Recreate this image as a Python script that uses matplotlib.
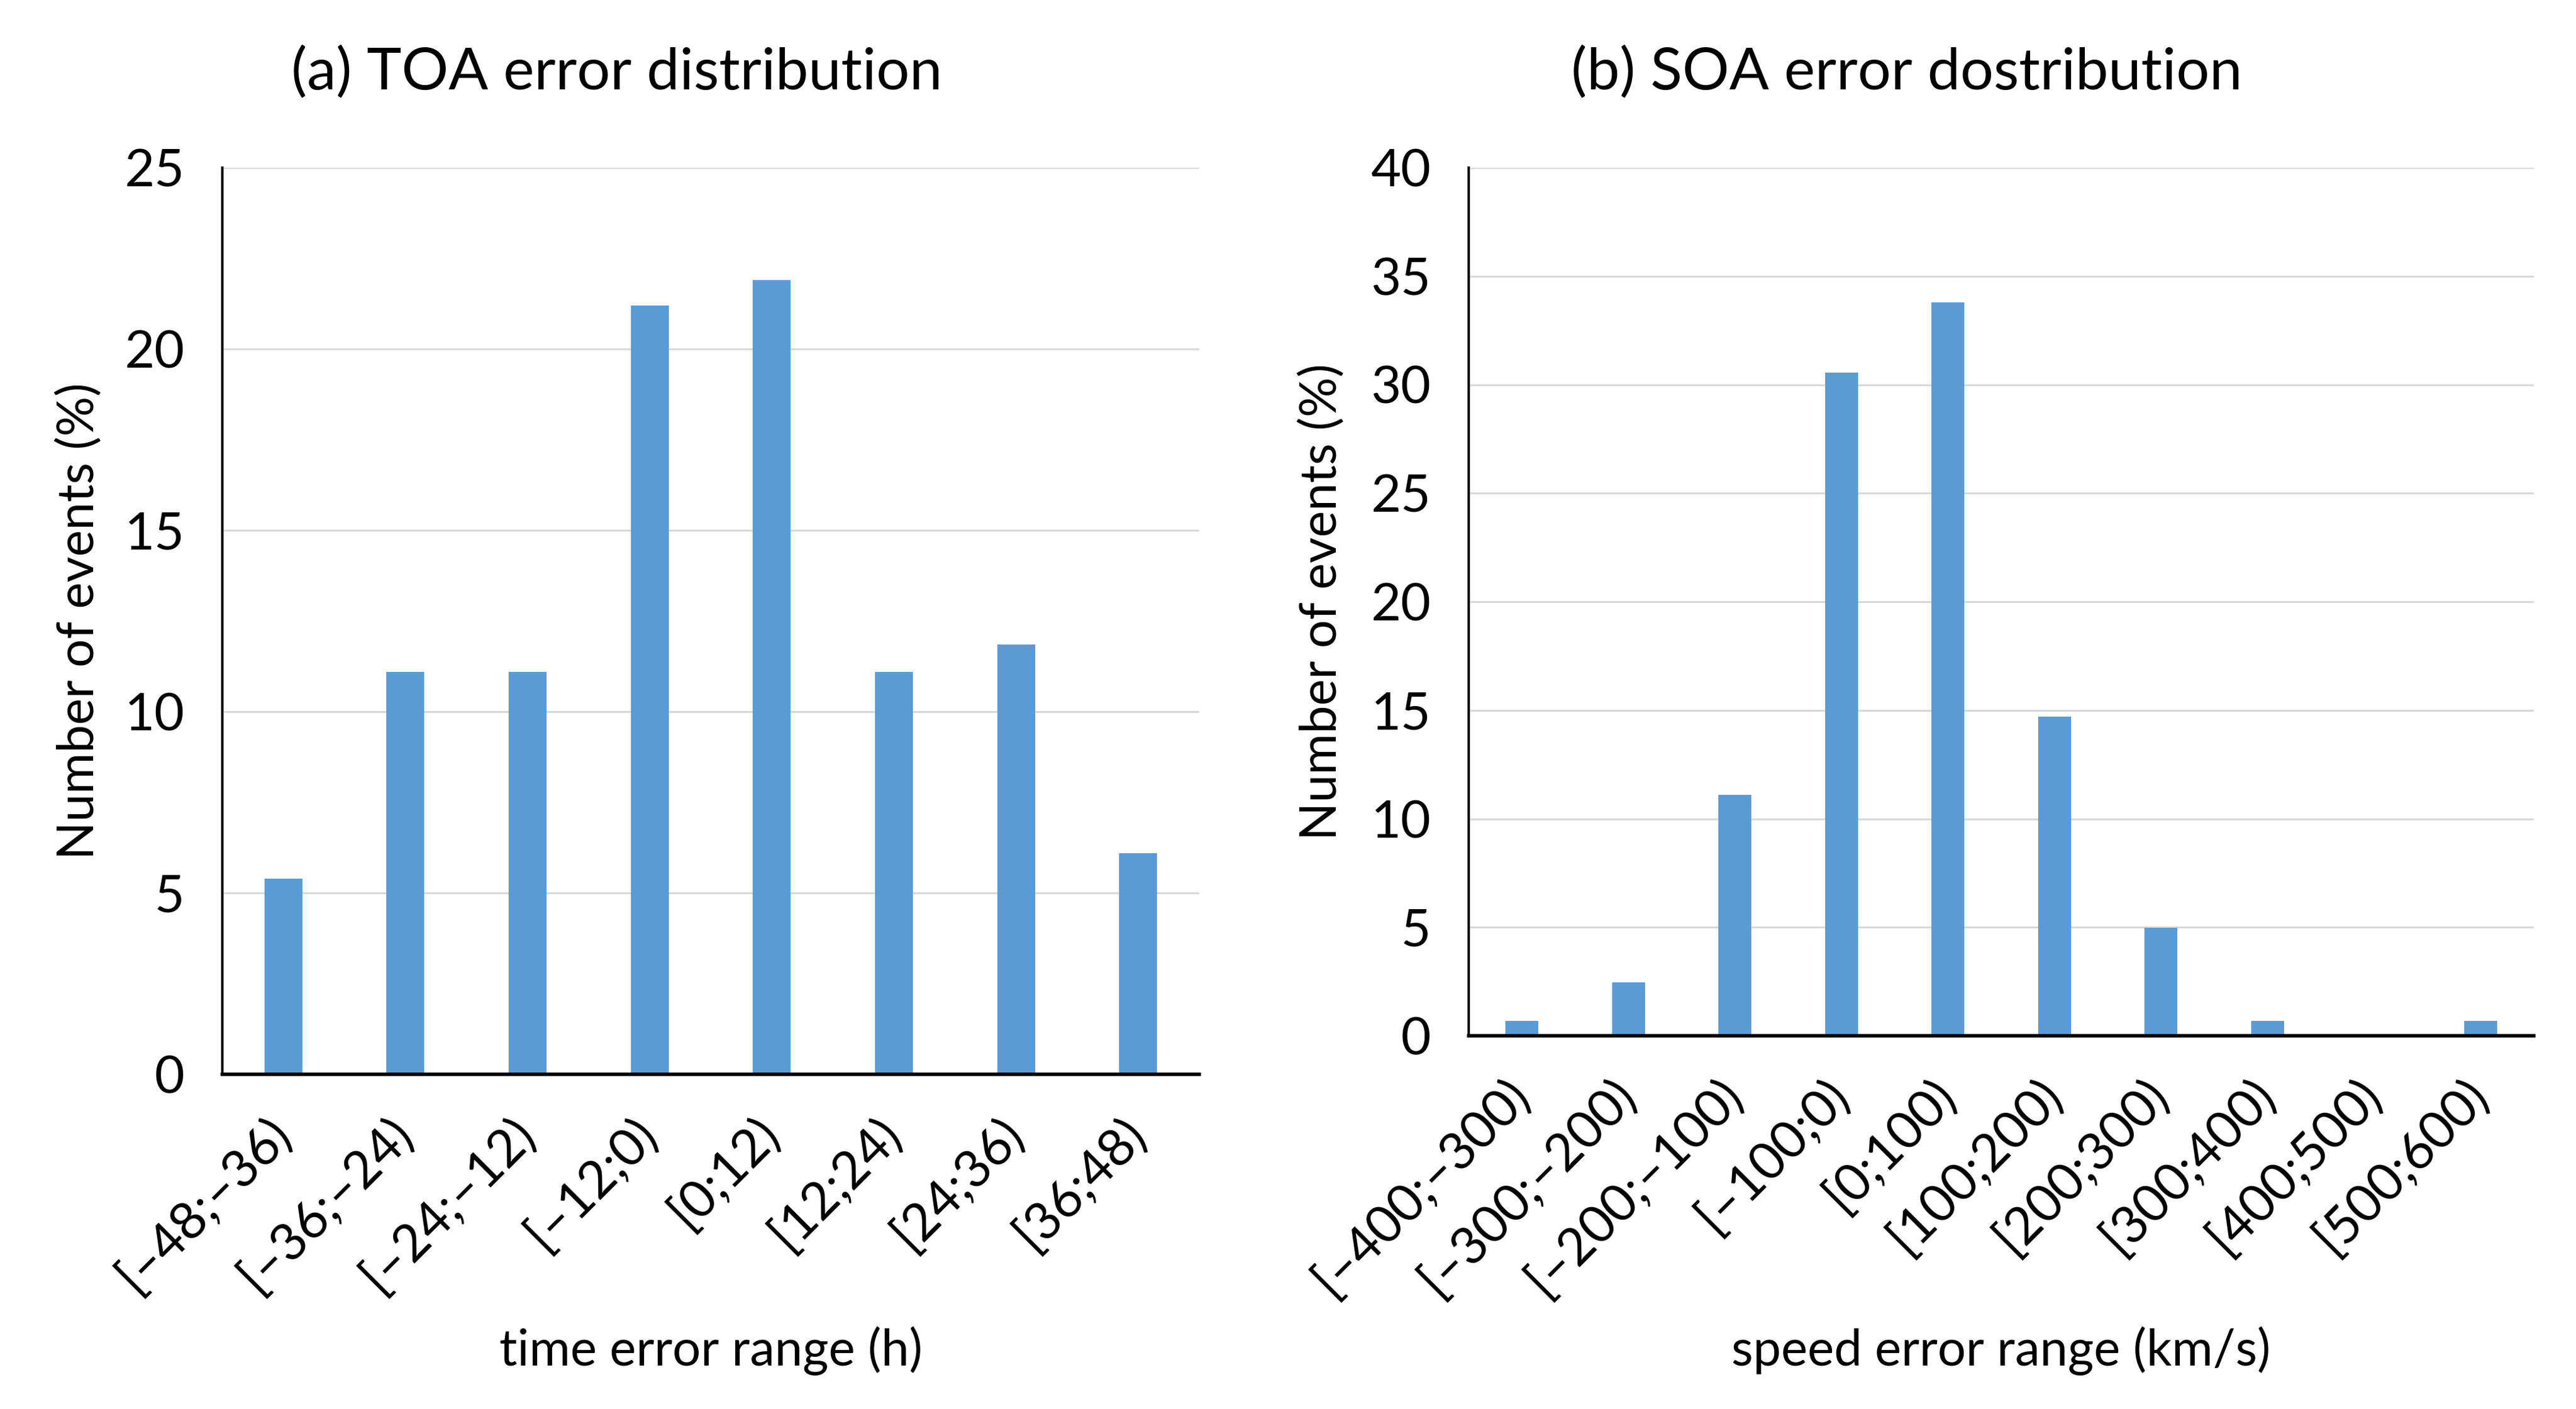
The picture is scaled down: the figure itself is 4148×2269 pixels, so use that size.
import matplotlib
matplotlib.use("Agg")
import matplotlib.pyplot as plt
import numpy as np

plt.rcParams['font.family'] = ['Lato', 'DejaVu Sans']

toa_labels = ["[–48;–36)", "[–36;–24)", "[–24;–12)", "[–12;0)", "[0;12)",
              "[12;24)", "[24;36)", "[36;48)"]
toa_values = [5.4, 11.1, 11.1, 21.2, 21.9, 11.1, 11.85, 6.1]

soa_labels = ["[–400;–300)", "[–300;–200)", "[–200;–100)", "[–100;0)", "[0;100)",
              "[100;200)", "[200;300)", "[300;400)", "[400;500)", "[500;600)"]
soa_values = [0.68, 2.47, 11.1, 30.55, 33.8, 14.7, 4.97, 0.68, 0.0, 0.68]

W, H, DPI = 4148, 2269, 200
fig = plt.figure(figsize=(W / DPI, H / DPI), dpi=DPI)

bar_color = "#5B9BD5"
grid_color = "#D9D9D9"
tick_fs = 30
label_fs = 29
title_fs = 34


def style(ax, ymax, labels, title, title_x):
    ax.set_ylim(0, ymax)
    ax.set_yticks(np.arange(0, ymax + 1, 5))
    ax.set_xlim(-0.5, len(labels) - 0.5)
    ax.set_xticks(np.arange(len(labels)))
    ax.set_xticklabels(labels, rotation=45, ha='right', va='center',
                       rotation_mode='anchor', fontsize=tick_fs)
    ax.tick_params(axis='x', length=0, pad=30)
    ax.tick_params(axis='y', length=0, pad=22, labelsize=tick_fs)
    ax.yaxis.grid(True, color=grid_color, linewidth=1.1)
    ax.set_axisbelow(True)
    for s in ['top', 'right']:
        ax.spines[s].set_visible(False)
    ax.spines['left'].set_linewidth(1.4)
    ax.spines['bottom'].set_linewidth(2.0)
    ax.spines['left'].set_color('black')
    ax.spines['bottom'].set_color('black')
    fig.text(title_x, 1 - 117 / H, title, ha='center', va='center', fontsize=title_fs)


ax1 = fig.add_axes([358 / W, 1 - 1730 / H, (1931 - 358) / W, (1730 - 270) / H])
ax1.bar(np.arange(len(toa_values)), toa_values, width=0.31, color=bar_color, zorder=2)
style(ax1, 25, toa_labels, "(a) TOA error distribution", 993 / W)
fig.text(127 / W, 1 - 1000 / H, "Number of events (%)", rotation=90,
         ha='center', va='center', fontsize=label_fs)
fig.text(1145 / W, 1 - 2175 / H, "time error range (h)", ha='center', va='center', fontsize=label_fs)

ax2 = fig.add_axes([2365 / W, 1 - 1668 / H, (4080 - 2365) / W, (1668 - 270) / H])
ax2.bar(np.arange(len(soa_values)), soa_values, width=0.31, color=bar_color, zorder=2)
style(ax2, 40, soa_labels, "(b) SOA error dostribution", 3070 / W)
fig.text(2128 / W, 1 - 969 / H, "Number of events (%)", rotation=90,
         ha='center', va='center', fontsize=label_fs)
fig.text(3222 / W, 1 - 2175 / H, "speed error range (km/s)", ha='center', va='center', fontsize=label_fs)

fig.savefig("out.png", dpi=DPI, facecolor='white')
